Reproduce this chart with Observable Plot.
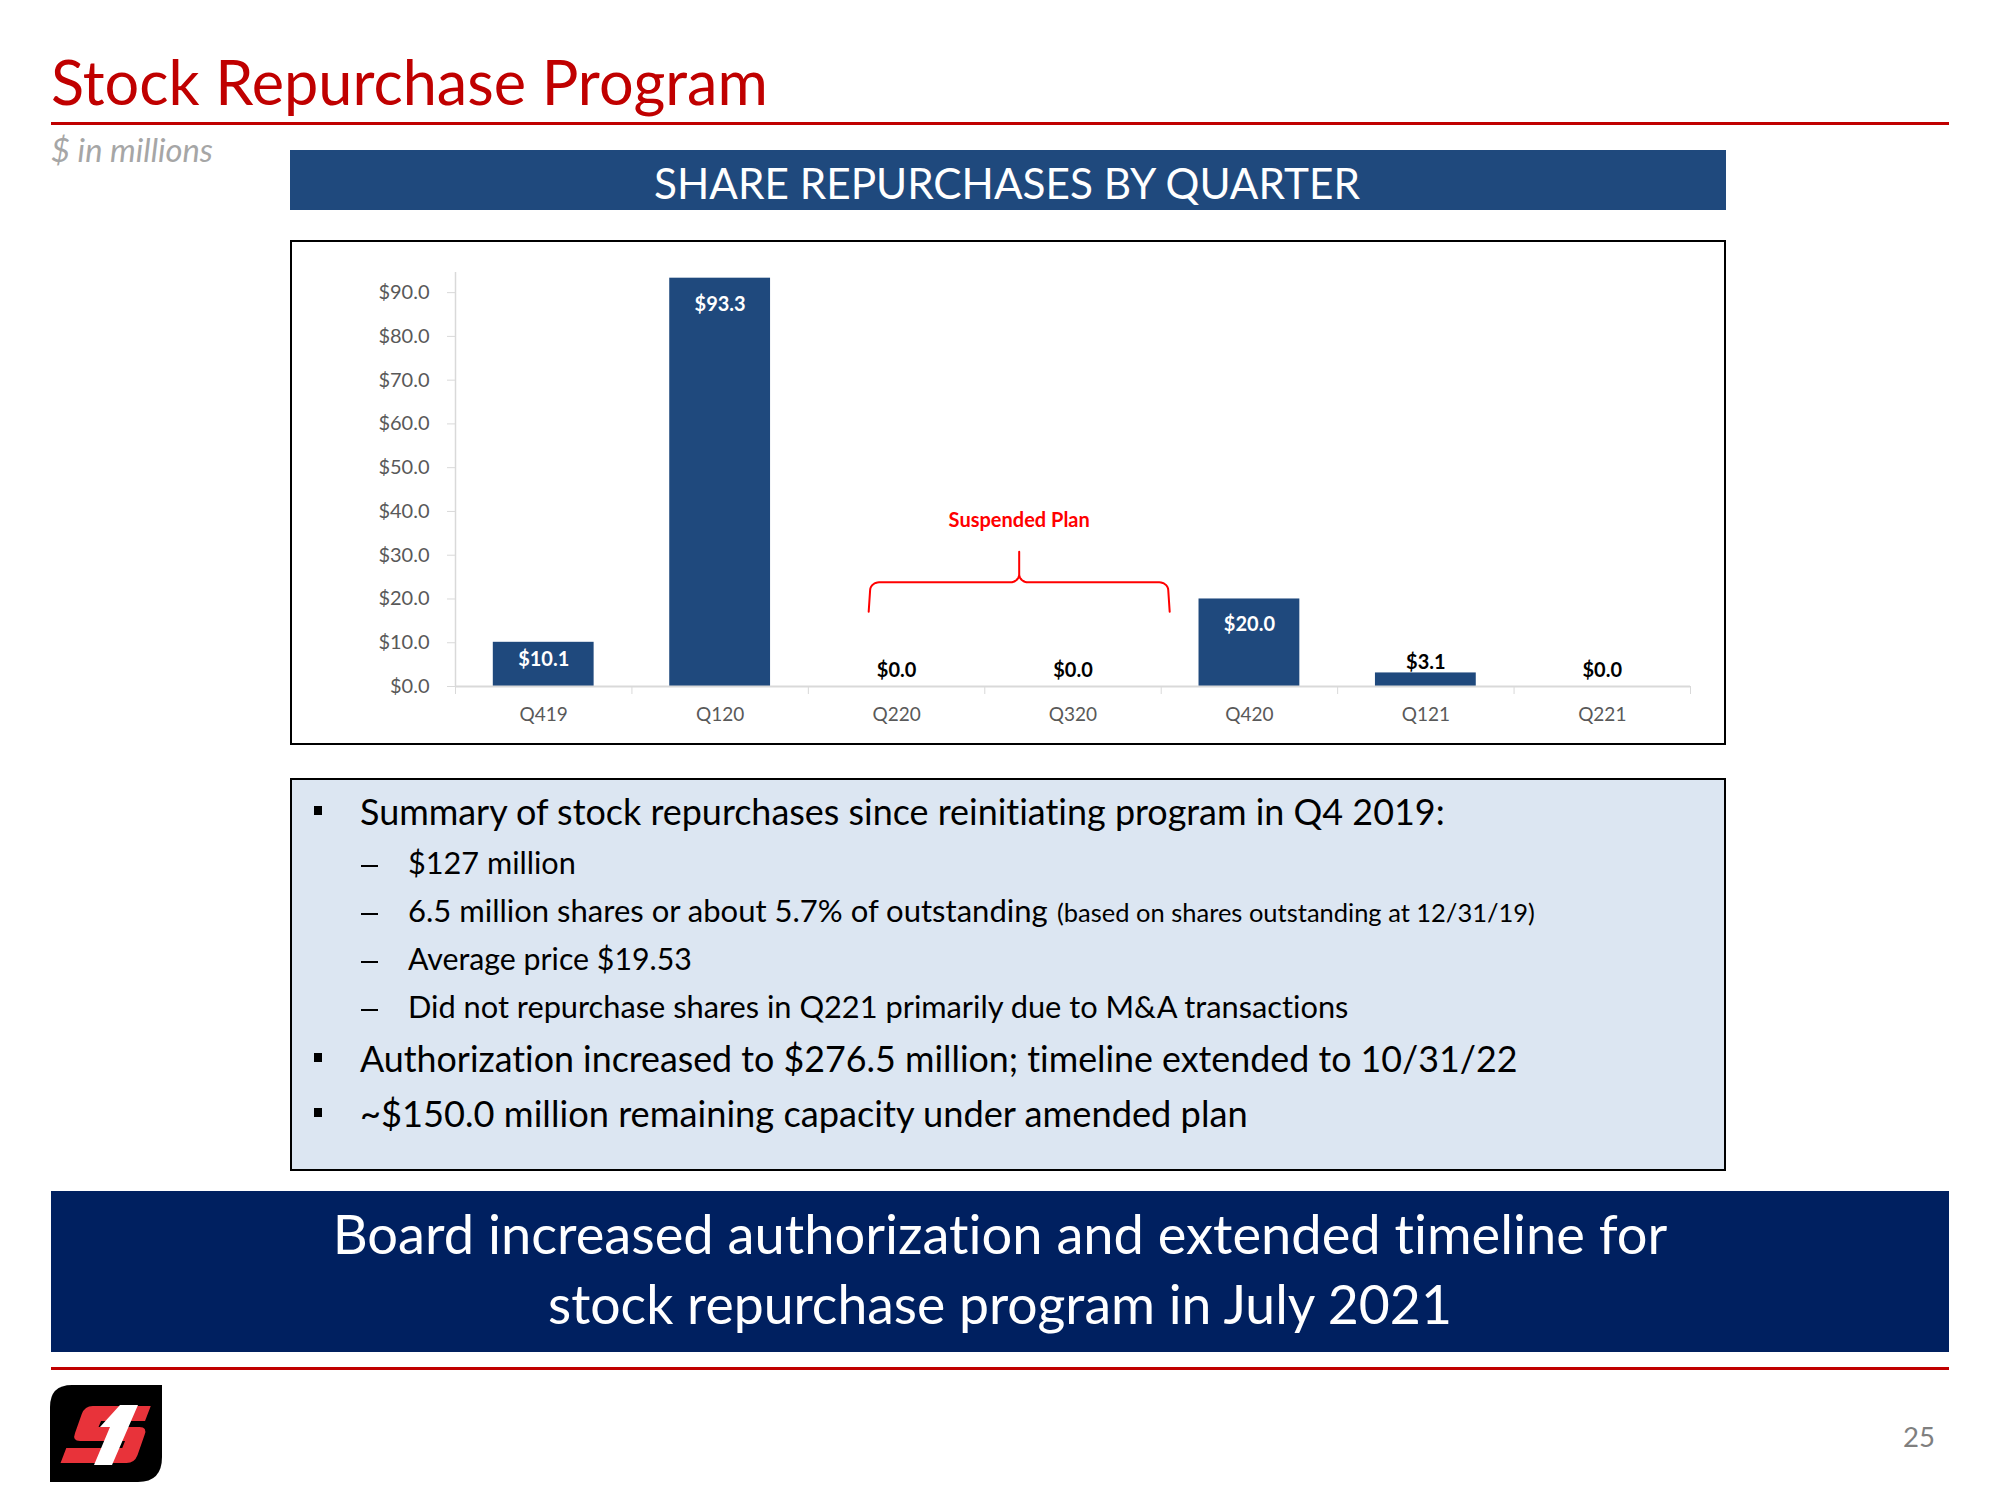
<!DOCTYPE html>
<html><head><meta charset="utf-8">
<script src="https://cdn.jsdelivr.net/npm/d3@7"></script>
<script src="https://cdn.jsdelivr.net/npm/@observablehq/plot@0.6"></script>
<style>
html,body{margin:0;padding:0;background:#fff;}
body{width:2000px;height:1500px;position:relative;overflow:hidden;font-family:Lato,"Open Sans",sans-serif;}
*{font-variant-ligatures:none;font-feature-settings:"liga" 0,"clig" 0;}
svg text{font-variant-ligatures:none;font-feature-settings:"liga" 0;}
.abs{position:absolute;white-space:nowrap;line-height:1;}
.box{position:absolute;box-sizing:border-box;}
</style></head><body>
<script>
// ---------- data ----------
const quarters = ["Q419", "Q120", "Q220", "Q320", "Q420", "Q121", "Q221"];
const repurchases = [10.1, 93.3, 0.0, 0.0, 20.0, 3.1, 0.0];
const yTicks = [0, 10, 20, 30, 40, 50, 60, 70, 80, 90];
const yMax = 94.6;
const suspendedSpan = ["Q220", "Q320"];
const suspendedLabel = "Suspended Plan";

const pageTitle = "Stock Repurchase Program";
const unitNote = "$ in millions";
const chartTitle = "SHARE REPURCHASES BY QUARTER";
const summaryHead = "Summary of stock repurchases since reinitiating program in Q4 2019:";
const summaryItems = ["$127 million", "6.5 million shares or about 5.7% of outstanding", "Average price $19.53", "Did not repurchase shares in Q221 primarily due to M&A transactions"];
const summaryNote = "(based on shares outstanding at 12/31/19)";
const bullet2 = "Authorization increased to $276.5 million; timeline extended to 10/31/22";
const bullet3 = "~$150.0 million remaining capacity under amended plan";
const bannerLines = ["Board increased authorization and extended timeline for", "stock repurchase program in July 2021"];
const pageNumber = "25";

// ---------- helpers ----------
function box(x, y, w, h, style) {
  const d = document.createElement("div");
  d.className = "box";
  Object.assign(d.style, {left: x + "px", top: y + "px", width: w + "px", height: h + "px"}, style || {});
  document.body.appendChild(d);
  return d;
}
function place(txt, o) {
  const el = document.createElement("div");
  el.className = "abs";
  el.appendChild(document.createTextNode(txt));
  const probe = document.createElement("span");
  Object.assign(probe.style, {display: "inline-block", width: "0px", height: "0px", verticalAlign: "baseline"});
  el.appendChild(probe);
  el.style.fontFamily = o.font || "Lato";
  el.style.fontWeight = o.weight || "normal";
  el.style.fontStyle = o.italic ? "italic" : "normal";
  el.style.color = o.color || "#000";
  let size = o.size || 30;
  el.style.fontSize = size + "px";
  el.style.left = "0px"; el.style.top = "0px";
  document.body.appendChild(el);
  if (o.width) {
    const w0 = el.getBoundingClientRect().width;
    size = size * o.width / w0;
    el.style.fontSize = size + "px";
  }
  const r = el.getBoundingClientRect();
  const base = probe.getBoundingClientRect().top - r.top;
  let left = o.x;
  if (o.align === "center") left = o.x - r.width / 2;
  el.style.left = left + "px";
  el.style.top = (o.baseline - base) + "px";
  return el;
}

// ---------- slide frame ----------
place(pageTitle, {x: 51, baseline: 105, width: 717, size: 60, color: "#C00000"});
box(51, 122, 1898, 3, {background: "#C00000"});
place(unitNote, {x: 51, baseline: 162, width: 162, size: 26, color: "#A6A6A6", italic: true});

box(290, 150, 1436, 60, {background: "#1F497D"});
place(chartTitle, {x: 1007, align: "center", baseline: 199, width: 706, size: 44, color: "#fff"});

box(290, 240, 1436, 505, {border: "2px solid #000", background: "#fff"});

// summary box
box(290, 778, 1436, 393, {border: "2px solid #000", background: "#DCE6F2"});
function bulletSq(baseline) { box(314, baseline - 19, 8, 9, {background: "#000"}); }
function dash(baseline) { box(361, baseline - 9, 17, 2, {background: "#000"}); }
bulletSq(825);
place(summaryHead, {x: 360, baseline: 825, width: 1085, size: 32});
const subBase = [874, 922, 970, 1018];
const subWidth = [168, 640, 284, 941];
summaryItems.forEach((t, i) => { dash(subBase[i]); place(t, {x: 408, baseline: subBase[i], width: subWidth[i], size: 28}); });
place(summaryNote, {x: 1057, baseline: 922, width: 478, size: 22});
bulletSq(1072);
place(bullet2, {x: 360, baseline: 1072, width: 1158, size: 32});
bulletSq(1127);
place(bullet3, {x: 360, baseline: 1127, width: 888, size: 32});

// banner
box(51, 1191, 1898, 161, {background: "#002060"});
place(bannerLines[0], {x: 1000, align: "center", baseline: 1254, width: 1335, size: 46, color: "#fff"});
place(bannerLines[1], {x: 1000, align: "center", baseline: 1324, width: 904, size: 46, color: "#fff"});
box(51, 1367, 1898, 3, {background: "#C00000"});

// logo
const logo = document.createElement("div");
logo.className = "box";
Object.assign(logo.style, {left: "50px", top: "1385px", width: "113px", height: "98px"});
logo.innerHTML = `<svg width="113" height="98" viewBox="0 0 113 98">
<path d="M22 0 H112 V72 Q112 97 88 97 H0 V22 Q0 0 22 0 Z" fill="#000"/>
<g transform="translate(8,0) skewX(-14)" fill="#E8333A">
<path d="M34 21 H98 L96 36 H52 L51 42 H92 Q100 42 99 50 L97 70 Q96 78 88 78 H22 L24 63 H80 L81 56 H36 Q28 56 29 48 L31 29 Q32 21 40 21 Z"/>
</g>
<path d="M70 20 H88 L62 80 H44 L60 42 H50 Z" fill="#fff"/>
</svg>`;
document.body.appendChild(logo);
place(pageNumber, {x: 1903, baseline: 1447, width: 32, size: 28, color: "#7F7F7F"});

// ---------- chart ----------
const W = 1432, H = 501;
const mL = 163, mR = 34, mT = 30, mB = 57;
const kPx = (H - mT - mB) / yMax;             // pixels per $ million
const gapWidth = 0.75;                          // Excel gap width
const side = (1 - 1 / (1 + gapWidth)) / 2;
const data = quarters.map((q, i) => ({q, i, v: repurchases[i]}));
const fmt = v => "$" + v.toFixed(1);
const insideMin = 5;
const labelsIn = data.filter(d => d.v >= insideMin)
  .map(d => ({...d, ly: d.v - Math.min(26, d.v * kPx - 27) / kPx}));
const labelsOut = data.filter(d => d.v < insideMin)
  .map(d => ({...d, ly: d.v + (d.v > 0 ? 10 : 16) / kPx}));

// brace annotation geometry (data units)
const left = quarters.indexOf(suspendedSpan[0]) + 0.35;
const right = quarters.indexOf(suspendedSpan[1]) + 1.04;
const mid = (left + right) / 2;
const yBase = 23.8, yTip = 30.8, yEnd = 17.1, yLabel = 37.9;
const rx = 9 / ((W - mL - mR) / quarters.length), ry = 8 / kPx;
function arc(cx, cy, a0, a1, n = 8) {
  return d3.range(n + 1).map(k => { const a = a0 + (a1 - a0) * k / n; return {x: cx + rx * Math.cos(a), y: cy + ry * Math.sin(a)}; });
}
const brace = [
  {x: left - 0.008, y: yEnd},
  ...arc(left + rx, yBase - ry, Math.PI, Math.PI / 2),
  ...arc(mid - rx, yBase + ry, -Math.PI / 2, 0),
  {x: mid, y: yTip},
  ...arc(mid + rx, yBase + ry, Math.PI, 3 * Math.PI / 2),
  ...arc(right - rx, yBase - ry, Math.PI / 2, 0),
  {x: right + 0.008, y: yEnd}
];

const chart = Plot.plot({
  width: W, height: H,
  marginLeft: mL, marginRight: mR, marginTop: mT, marginBottom: mB,
  style: {fontFamily: "Lato", fontSize: "20px", background: "transparent", overflow: "visible"},
  x: {type: "linear", domain: [0, quarters.length]},
  y: {domain: [0, yMax]},
  marks: [
    Plot.ruleX([0], {y1: 0, y2: yMax, stroke: "#D9D9D9", strokeWidth: 1.5}),
    Plot.axisY({ticks: yTicks, tickSize: 8, tickPadding: 18, tickFormat: fmt, stroke: "#D9D9D9", fill: "#595959", fontSize: 20, label: null}),
    Plot.axisX({ticks: d3.range(0, quarters.length + 1), tickSize: 8, tickFormat: () => "", stroke: "#D9D9D9", label: null}),
    Plot.rectY(data, {x1: d => d.i + side, x2: d => d.i + 1 - side, y1: 0, y2: "v", fill: "#1F497D"}),
    Plot.ruleY([0], {stroke: "#D9D9D9", strokeWidth: 2}),
    Plot.text(data, {x: d => d.i + 0.5, y: 0, dy: 28, text: "q", fill: "#595959", fontSize: 19}),
    Plot.text(labelsIn, {x: d => d.i + 0.5, y: "ly", text: d => fmt(d.v), fill: "#fff", fontWeight: "bold", fontSize: 20}),
    Plot.text(labelsOut, {x: d => d.i + 0.5, y: "ly", text: d => fmt(d.v), fill: "#000", fontWeight: "bold", fontSize: 20}),
    Plot.line(brace, {x: "x", y: "y", stroke: "#FF0000", strokeWidth: 2}),
    Plot.text([suspendedLabel], {x: mid, y: yLabel, text: d => d, fill: "#FF0000", fontWeight: "bold", fontSize: 20})
  ]
});
const holder = document.createElement("div");
holder.className = "box";
Object.assign(holder.style, {left: "292px", top: "242px", width: W + "px", height: H + "px"});
holder.appendChild(chart);
document.body.appendChild(holder);
</script>
</body></html>
